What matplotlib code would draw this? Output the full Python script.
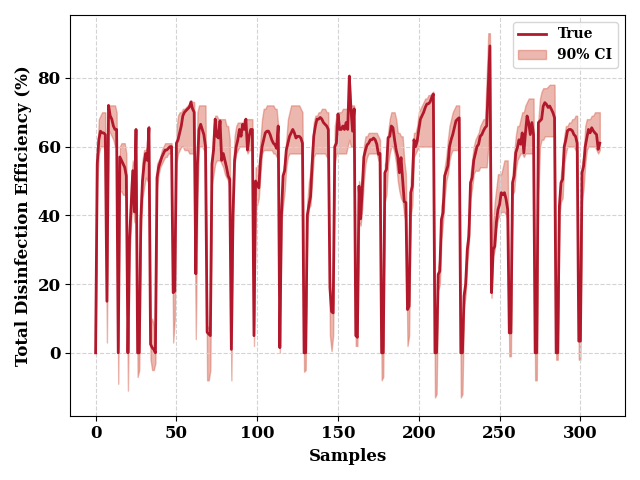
import numpy as np
import matplotlib.pyplot as plt

# true efficiency per sample
true_vals = [
  0, 55, 62, 64.5, 64, 64, 63.5, 15, 72, 69, 68, 66, 65, 65, 0, 57, 56, 55, 54, 51.5,
  0, 33, 43, 53, 41, 65, 0, 0, 39, 50, 55, 58, 56, 65.5, 2.5, 1.5, 1, 0, 51, 54,
  55.5, 57, 58, 59, 59, 59.5, 60, 60, 17.5, 18, 61, 62, 64, 66, 69, 70, 70.5, 71, 71.5, 73,
  71, 70, 23, 55, 65, 66.5, 65, 63.5, 60, 6, 5.5, 5, 55, 59, 68, 63, 62.5, 67.5, 56, 58,
  56, 54, 51.5, 50.5, 1, 40, 56, 60, 62, 65, 63, 66.5, 65, 68, 59, 63, 65, 65, 5, 50,
  49, 48, 56, 60, 62, 64, 64.5, 64.5, 63.5, 62, 61, 60.5, 59.5, 66, 1.5, 40, 51.5, 53, 59, 61,
  63, 64, 65, 64, 62.5, 63, 63, 62.5, 61, 0, 0, 40, 43, 45.5, 55, 63, 66, 68, 68, 68.5,
  68, 67, 66.5, 66, 65, 19, 12, 11.6, 60, 61, 69.5, 65, 65, 66, 65, 67, 65, 80.5, 71, 64.5,
  71, 5, 4.5, 48.5, 39, 47.5, 57, 59, 60.5, 61, 62, 62, 62.5, 62, 60.7, 57.8, 58, 0, 0, 52.4,
  53.4, 62.6, 63, 66, 65.5, 62, 59, 57, 52.4, 56.8, 50.5, 44, 43.7, 12.6, 13.6, 46.6, 48.5, 62, 60, 61.6,
  65, 68, 69, 70, 71.4, 72.4, 72.5, 73, 74.3, 75.3, 0, 0, 22.8, 23.8, 38.8, 40.8, 51.5, 53, 54.4, 60,
  62, 63.5, 65.5, 67.5, 68, 68.4, 0, 0, 16.5, 20, 30, 34, 49.5, 51, 56, 58, 60, 60.7, 63, 63.5,
  64.6, 65.5, 66, 78, 89.3, 17.5, 30, 31, 38, 41.7, 43.2, 46.6, 46, 46.6, 44.7, 41.7, 5.8, 5.8, 49.5, 51.5,
  58.2, 59.7, 62, 60.7, 64, 58.2, 64, 68.9, 67, 63.5, 67, 63.5, 0, 0, 67, 67.5, 68, 71.8, 72.8, 72.3,
  71.4, 71.8, 70.9, 69.9, 68.4, 0, 0, 42.7, 49.5, 50.5, 60, 62, 64.6, 65, 65, 64.6, 63.5, 63, 61, 3.4,
  3.4, 52.4, 54.4, 60, 62.6, 65, 64, 65.5, 64.6, 64, 63.5, 59.2, 61,
]

ci_low = [
  0, 50, 58, 60, 60, 60, 58, 3, 65, 64, 63, 62, 60, 60, -9, 47, 47, 46, 46, 45,
  -11, 28, 38, 45, 38, 50, -7, -5, 35, 45, 48, 51, 50, 55, -2, -5, -5, -3, 48, 52,
  54, 55, 56, 57, 57, 58, 58, 58, 3, 10, 55, 58, 59, 60, 60, 59, 59, 59, 58, 58,
  58, 58, 4, 45, 60, 60, 60, 59, 58, -8, -8, -5, 49, 52, 55, 56, 56, 56, 55, 54,
  52, 51, 50, 48, -8, 35, 55, 58, 59, 60, 60, 60, 60, 60, 58, 59, 59, 59, 2, 43,
  43, 45, 52, 58, 59, 59, 59, 59, 59, 59, 58, 58, 57, 60, 0, 38, 43, 47, 54, 57,
  58, 58, 58, 58, 58, 58, 58, 58, 58, -5.5, -5, 38, 42, 43, 50, 57, 58, 58, 58, 58,
  58, 58, 58, 57, 57, 5, 0.5, 5, 55, 58, 58, 58, 58, 58, 58, 58, 60, 62, 60, 60,
  60, 2, 2, 38, 37, 42, 50, 55, 57, 58, 58, 58, 58, 58, 58, 56, 56, -8, -7, 44,
  46, 55, 58, 60, 60, 58, 55, 50, 47, 45, 44, 40, 38, 2, 5, 40, 43, 57, 58, 59,
  60, 60, 60, 60, 60, 60, 60, 60, 60, 60, -13, -12, 18, 20, 33, 38, 45, 50, 52, 56,
  58, 59, 59, 59, 59, 59, -13, -12, 13, 17, 26, 32, 45, 48, 52, 53, 53, 53, 54, 54,
  54, 54, 54, 60, 70, 16, 28, 30, 36, 39, 40, 41, 41, 41, 40, 39, -1, -1, 46, 47,
  53, 56, 57, 58, 58, 57, 58, 58, 58, 58, 58, 58, -8, -8, 46, 60, 62, 62, 63, 63,
  63, 63, 63, 63, 63, -2, -2, 40, 44, 45, 55, 58, 60, 60, 60, 60, 60, 59, 59, -2,
  -2, 44, 48, 55, 59, 60, 60, 60, 60, 60, 59, 58, 59,
]

ci_high = [
  0, 58, 68, 69, 70, 70, 70, 20, 72, 72, 72, 72, 72, 70, 2, 60, 61, 61, 61, 58,
  2, 38, 50, 56, 54, 65, 2, 3, 45, 56, 59, 59, 60, 66, 8, 10, 8, 3, 55, 56,
  57, 59, 60, 61, 61, 61, 61, 61, 20, 20, 65, 69, 70, 70, 71, 71, 71.5, 72, 72, 73.5,
  73, 73, 25, 70, 72, 72, 72, 72, 72, 8, 7, 7, 58, 66, 69, 69, 68, 68, 68, 68,
  68, 66, 66, 62, 3, 50, 63, 66, 67, 67, 67, 67, 68, 68, 68, 68, 68, 68, 8, 54,
  54, 55, 62, 68, 71, 71, 72, 72, 72, 72, 72, 71, 71, 66, 3, 45, 53, 56, 62, 68,
  70, 72, 72, 72, 72, 72, 72, 71, 70, 2, 2, 44, 50, 53, 60, 67, 69, 69, 70, 70,
  71, 71, 71, 70, 70, 21, 14, 14, 66, 69, 70, 70, 70, 71, 71, 71, 71, 81, 72, 72,
  72, 8, 8, 50, 48, 52, 60, 63, 63, 64, 64, 64, 64, 64, 64, 63, 62, 2, 2, 55,
  56, 64, 68, 70, 70, 70, 68, 64, 64, 63, 63, 56, 52, 15, 15, 50, 58, 64, 64, 66,
  70, 71, 72, 73, 74, 74, 75, 75, 75.5, 76, 2, 2, 25, 28, 43, 45, 54, 57, 62, 66,
  68, 70, 71, 72, 72, 72, 2, 2, 18, 24, 34, 40, 52, 56, 60, 62, 63, 64, 66, 67,
  68, 68, 80, 93, 93, 25, 38, 44, 48, 52, 52, 52, 54, 56, 56, 56, 10, 8, 52, 58,
  63, 66, 66, 68, 70, 70, 72, 73, 74, 74, 74, 74, 2, 2, 68, 74, 76, 77, 77, 77,
  77.5, 78, 78, 78, 78, 2, 2, 46, 52, 56, 63, 66, 66, 67, 67, 68, 68, 69, 69, 6,
  5, 55, 58, 66, 68, 68, 68, 69, 69, 70, 70, 70, 70,
]

samples = np.arange(len(true_vals))

plt.rcParams['font.family'] = 'DejaVu Serif'
plt.rcParams['font.weight'] = 'bold'

fig, ax = plt.subplots(figsize=(6.4, 4.8), dpi=100)
ax.plot(samples, true_vals, color='#b2182b', linewidth=2, label='True')
ax.fill_between(samples, ci_low, ci_high, color='#d6604d', alpha=0.45,
                label='90% CI')

ax.set_xlabel('Samples', fontsize=12, fontweight='bold')
ax.set_ylabel('Total Disinfection Efficiency (%)', fontsize=12, fontweight='bold')
ax.tick_params(labelsize=12)
for lab in ax.get_xticklabels() + ax.get_yticklabels():
    lab.set_fontweight('bold')
ax.grid(True, linestyle='--', color='lightgray')
ax.legend(loc='upper right', prop={'weight': 'bold', 'size': 10})

plt.tight_layout()
plt.savefig('out.png')
